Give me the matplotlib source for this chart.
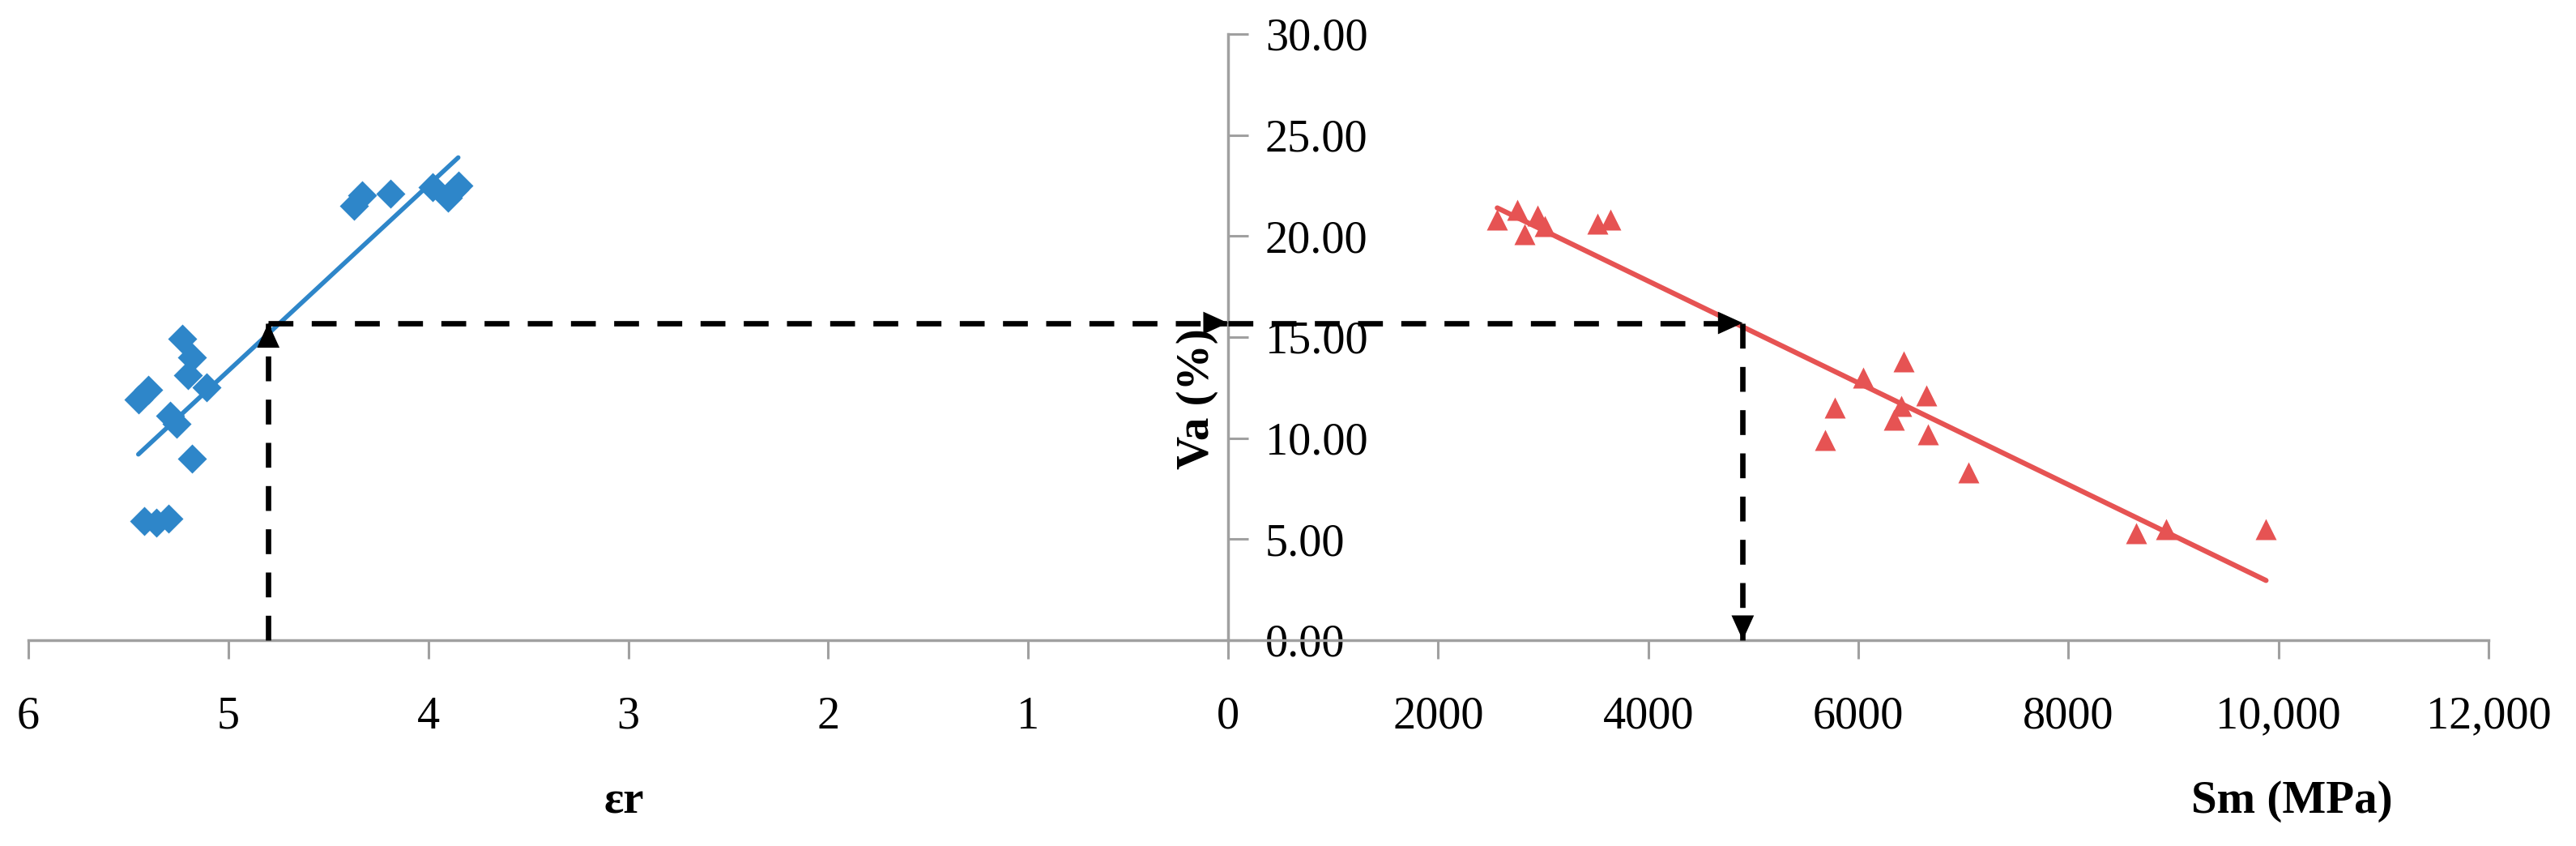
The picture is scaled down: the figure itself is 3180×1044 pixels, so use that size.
import matplotlib
matplotlib.use("Agg")
import matplotlib.pyplot as plt
import numpy as np

# ---------------- data ----------------
er_x = [5.45, 5.40, 5.42, 5.36, 5.30, 5.29, 5.26, 5.23, 5.18, 5.20, 5.11, 5.18,
        4.37, 4.33, 4.19, 3.98, 3.90, 3.85, 3.87]
er_va = [11.9, 12.4, 5.9, 5.8, 6.0, 11.1, 10.7, 14.9, 14.0, 13.1, 12.5, 9.0,
         21.5, 22.0, 22.1, 22.4, 21.9, 22.5, 22.3]

sm_x = [2563, 2754, 2820, 2948, 3013, 3515, 3643, 5685, 5777, 6047, 6342, 6407,
        6433, 6649, 6664, 7050, 8648, 8933, 9882]
sm_va = [20.8, 21.3, 20.1, 21.0, 20.5, 20.6, 20.8, 9.9, 11.5, 13.0, 10.9, 11.6,
         13.8, 12.1, 10.2, 8.3, 5.3, 5.5, 5.5]

er_ticks = [6, 5, 4, 3, 2, 1, 0]
er_tick_labels = ["6", "5", "4", "3", "2", "1", "0"]
sm_ticks = [0, 2000, 4000, 6000, 8000, 10000, 12000]
sm_tick_labels = ["", "2000", "4000", "6000", "8000", "10,000", "12,000"]
va_ticks = [0, 5, 10, 15, 20, 25, 30]
va_tick_labels = ["0.00", "5.00", "10.00", "15.00", "20.00", "25.00", "30.00"]

er_read = 4.8
sm_read = 4900
va_read = 15.7

# ---------------- style ----------------
plt.rcParams["font.family"] = ["Liberation Serif", "DejaVu Serif"]
BLUE = "#2E86C9"
RED = "#E65353"
GRAY = "#A0A0A0"
FS = 40.5
FSL = 41

W, H = 3180, 1044
fig = plt.figure(figsize=(W / 100, H / 100), dpi=100)
y0, y1 = 790, 42
axL = fig.add_axes([35 / W, (H - y0) / H, (1516 - 35) / W, (y0 - y1) / H])
axR = fig.add_axes([1516 / W, (H - y0) / H, (3072 - 1516) / W, (y0 - y1) / H])

for ax in (axL, axR):
    ax.set_ylim(0, 30)
    ax.set_facecolor("none")
    for s in ("top", "right"):
        ax.spines[s].set_visible(False)
    ax.spines["bottom"].set_color(GRAY)
    ax.spines["bottom"].set_linewidth(2.5)
    ax.tick_params(axis="x", direction="out", length=16.5, width=2.2,
                   color=GRAY, pad=33, labelsize=FS, labelcolor="black")

# left panel
axL.set_xlim(6, 0)
axL.spines["left"].set_visible(False)
axL.set_yticks([])
axL.set_xticks(er_ticks)
axL.set_xticklabels(er_tick_labels)

# right panel
axR.set_xlim(0, 12000)
axR.spines["left"].set_color(GRAY)
axR.spines["left"].set_linewidth(2.5)
axR.set_xticks(sm_ticks)
axR.set_xticklabels(sm_tick_labels)
axR.set_yticks(va_ticks)
axR.set_yticklabels(va_tick_labels)
axR.tick_params(axis="y", direction="in", length=18, width=2.2, color=GRAY,
                pad=-33, labelsize=FS, labelcolor="black")
for lbl in axR.get_yticklabels():
    lbl.set_horizontalalignment("left")

# scatter + trend lines
c1 = np.polyfit(er_x, er_va, 1)
xs1 = np.array([max(er_x), min(er_x)])
axL.plot(xs1, np.polyval(c1, xs1), color=BLUE, lw=4.0, solid_capstyle="round", zorder=3)
axL.plot(er_x, er_va, "D", ms=18, color=BLUE, mec="none", zorder=4, clip_on=False)

c2 = np.polyfit(sm_x, sm_va, 1)
xs2 = np.array([min(sm_x), max(sm_x)])
axR.plot(xs2, np.polyval(c2, xs2), color=RED, lw=4.5, solid_capstyle="round", zorder=3)
axR.plot(sm_x, sm_va, "^", ms=19, color=RED, mec="none", zorder=4, clip_on=False)

# dashed reading lines
dash = dict(color="black", lw=4.8, linestyle=(0, (4.6, 3.4)), clip_on=False, zorder=5)
axL.plot([er_read, er_read], [0, va_read], **dash)
axL.plot([er_read, 0], [va_read, va_read], **dash)
axR.plot([0, sm_read], [va_read, va_read], **dash)
axR.plot([sm_read, sm_read], [va_read, 0], **dash)

def head(ax, xy, off):
    ax.annotate("", xy=xy, xycoords="data", xytext=off, textcoords="offset points",
                arrowprops=dict(arrowstyle="-|>,head_length=1.1,head_width=0.5",
                                mutation_scale=20, color="black", lw=0,
                                shrinkA=0, shrinkB=0),
                annotation_clip=False, zorder=6)

head(axL, (er_read, va_read), (0, -22))
head(axR, (0, va_read), (-22, 0))
head(axR, (sm_read, va_read), (-22, 0))
head(axR, (sm_read, 0), (0, 22))

# axis labels
axL.set_xlabel("εr", fontsize=FSL, fontweight="bold")
axL.xaxis.label.set_va("baseline")
axL.xaxis.set_label_coords((770 - 35) / (1516 - 35), -(1003 - y0) / (y0 - y1))

axR.set_xlabel("Sm (MPa)", fontsize=FSL, fontweight="bold")
axR.xaxis.label.set_va("baseline")
axR.xaxis.set_label_coords((2829 - 1516) / (3072 - 1516), -(1003 - y0) / (y0 - y1))

axR.set_ylabel("Va (%)", fontsize=FSL, fontweight="bold")
axR.yaxis.label.set_va("center")
axR.yaxis.set_label_coords((1478 - 1516) / (3072 - 1516), (y0 - 492) / (y0 - y1))

fig.savefig("out.png", dpi=100, facecolor="white")
